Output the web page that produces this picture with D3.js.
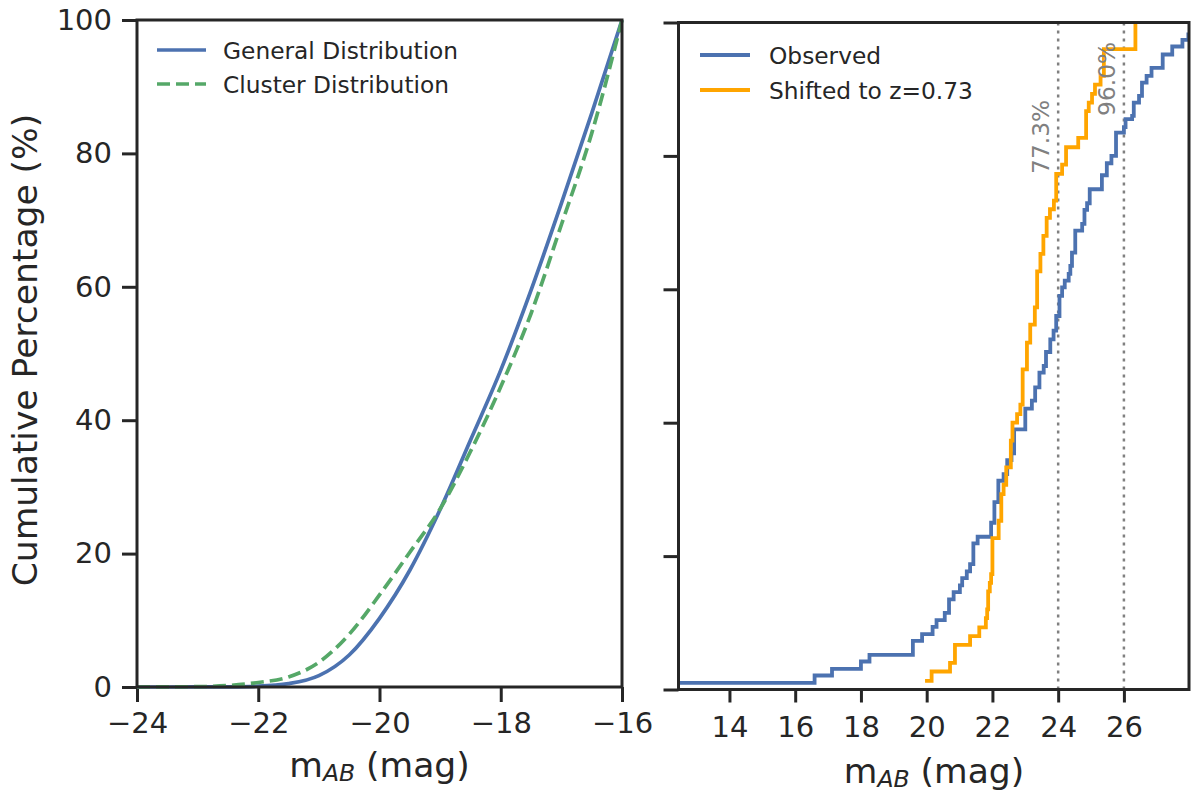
<!DOCTYPE html>
<html>
<head>
<meta charset="utf-8">
<script src="https://cdn.jsdelivr.net/npm/d3@7"></script>
<style>
  html, body { margin: 0; padding: 0; background: #ffffff; }
  svg { display: block; font-family: "DejaVu Sans", sans-serif; }
</style>
</head>
<body>
<svg id="chart" width="1193" height="794"></svg>
<script>
// ---------- data ----------
// Left panel: cumulative percentage vs absolute magnitude
const absMag      = [-24, -23, -22.5, -22, -21.5, -21, -20.5, -20, -19.5, -19, -18.5, -18, -17.5, -17, -16.5, -16];
const generalPct  = [0, 0.01, 0.03, 0.12, 0.5, 1.7, 4.8, 10.3, 17.5, 26.6, 37.0, 47.5, 59.5, 72.5, 86.0, 100];
const clusterPct  = [0, 0.05, 0.22, 0.68, 1.5, 3.7, 7.9, 13.8, 20.2, 26.7, 35.3, 45.0, 56.0, 69.3, 83.0, 100];

// Right panel: observed apparent magnitudes (step, post)
const observedMag = [12.45, 16.59, 17.12, 18.00, 18.26, 19.58, 19.86, 20.18, 20.30, 20.55, 20.68, 20.82, 21.01, 21.08, 21.22, 21.32,
                     21.42, 21.55, 21.96, 22.06, 22.18, 22.34, 22.45, 22.58, 22.66, 23.00, 23.20, 23.30, 23.43, 23.56, 23.63, 23.76,
                     23.86, 23.94, 24.04, 24.12, 24.20, 24.32, 24.37, 24.42, 24.52, 24.73, 24.80, 24.88, 24.96, 25.33, 25.48, 25.62,
                     25.76, 26.00, 26.05, 26.25, 26.30, 26.46, 26.55, 26.69, 26.84, 27.18, 27.47, 27.78, 27.96];
const observedPct = [1.0, 2.1, 3.1, 4.2, 5.2, 7.3, 8.3, 9.4, 10.4, 11.5, 13.5, 14.6, 15.6, 16.7, 17.7, 18.8,
                     21.9, 22.9, 25.0, 28.1, 31.3, 32.3, 34.4, 35.4, 39.0, 42.1, 43.3, 45.3, 47.5, 48.5, 50.6, 52.5,
                     53.8, 56.0, 59.0, 60.3, 61.3, 62.3, 63.5, 65.5, 68.8, 69.8, 71.9, 72.9, 75.0, 77.1, 78.9, 80.0,
                     83.5, 84.3, 85.5, 86.0, 88.0, 89.0, 91.0, 92.0, 93.2, 95.2, 96.4, 97.4, 98.5];

// Right panel: magnitudes shifted to z=0.73 (step, post)
const shiftedMag  = [19.95, 20.15, 20.71, 20.86, 21.32, 21.60, 21.80, 21.84, 21.87, 21.92, 21.96, 22.00, 22.19, 22.27, 22.34, 22.42,
                     22.56, 22.61, 22.75, 22.85, 22.92, 23.05, 23.15, 23.29, 23.36, 23.46, 23.55, 23.65, 23.75, 23.87, 23.94, 24.12,
                     24.24, 24.61, 24.85, 24.93, 25.03, 25.12, 25.29, 25.39, 26.35];
const shiftedPct  = [1.3, 2.7, 4.0, 6.7, 8.0, 9.3, 10.7, 12.0, 14.7, 16.0, 17.3, 22.7, 25.3, 29.3, 30.7, 33.3,
                     37.3, 40.0, 41.3, 42.7, 48.0, 52.0, 54.7, 57.3, 62.7, 65.3, 68.0, 70.7, 72.0, 73.3, 77.3, 78.7,
                     81.3, 82.7, 86.7, 88.0, 89.3, 90.7, 92.0, 96.0, 100];

// Reference lines and their labels
const refMag      = [24, 26];
const refLabel    = ["77.3%", "96.0%"];
const refLabelPct = [77.3, 86.0];

// Ticks
const leftXTicks  = [-24, -22, -20, -18, -16];
const rightXTicks = [14, 16, 18, 20, 22, 24, 26];
const yTicks      = [0, 20, 40, 60, 80, 100];

// ---------- styles ----------
const INK = "#262626";
const BLUE = "#4C72B0", GREEN = "#55A868", ORANGE = "#FFA500", GRAY = "#808080";
const TICK_FS = 29, LABEL_FS = 34.5, LEGEND_FS = 23.3;

const svg = d3.select("#chart");

// ---------- scales ----------
const xL = d3.scaleLinear().domain([-24, -16]).range([137, 622]);
const yL = d3.scaleLinear().domain([0, 100]).range([687, 20]);
const xR = d3.scaleLinear().domain([12.45, 27.98]).range([678.5, 1189]);
const yR = d3.scaleLinear().domain([0, 100]).range([689.5, 22.5]);

function styleAxis(g) {
  g.select(".domain").remove();
  g.selectAll(".tick line").attr("stroke", INK).attr("stroke-width", 3);
  g.selectAll(".tick text").attr("fill", INK).attr("font-size", TICK_FS)
    .attr("font-family", "DejaVu Sans, sans-serif");
}

function frame(x, y) {
  const [x0, x1] = x.range();
  const [y0, y1] = y.range();
  svg.append("rect").attr("x", x0).attr("y", y1).attr("width", x1 - x0).attr("height", y0 - y1)
    .attr("fill", "none").attr("stroke", INK).attr("stroke-width", 3);
}

// ---------- left panel ----------
svg.append("g").attr("transform", `translate(0,${yL(0)})`)
  .call(d3.axisBottom(xL).tickValues(leftXTicks).tickSize(15).tickPadding(10).tickFormat(d3.format("d")))
  .call(styleAxis)
  .selectAll(".tick text").attr("dy", "0.71em");

svg.append("g").attr("transform", `translate(${xL(-24)},0)`)
  .call(d3.axisLeft(yL).tickValues(yTicks).tickSize(15).tickPadding(10).tickFormat(d3.format("d")))
  .call(styleAxis);

const lineL = d3.line().curve(d3.curveMonotoneX).x(d => xL(d[0])).y(d => yL(d[1]));
const generalData = absMag.map((m, i) => [m, generalPct[i]]);
const clusterData = absMag.map((m, i) => [m, clusterPct[i]]);

svg.append("path").datum(generalData).attr("d", lineL)
  .attr("fill", "none").attr("stroke", BLUE).attr("stroke-width", 3.7);
svg.append("path").datum(clusterData).attr("d", lineL)
  .attr("fill", "none").attr("stroke", GREEN).attr("stroke-width", 3.7)
  .attr("stroke-dasharray", "13,6");

frame(xL, yL);

// left legend
const legL = [
  { label: "General Distribution", color: BLUE, dash: null },
  { label: "Cluster Distribution", color: GREEN, dash: "13,6" }
];
legL.forEach((d, i) => {
  const cy = 50 + i * 34;
  svg.append("line").attr("x1", 157).attr("x2", 206).attr("y1", cy).attr("y2", cy)
    .attr("stroke", d.color).attr("stroke-width", 3.7).attr("stroke-dasharray", d.dash);
  svg.append("text").attr("x", 223).attr("y", cy + 8.5).attr("font-size", LEGEND_FS)
    .attr("fill", INK).text(d.label);
});

// axis labels
function xLabel(cx, baseline) {
  const t = svg.append("text").attr("x", cx).attr("y", baseline).attr("text-anchor", "middle")
    .attr("font-size", LABEL_FS).attr("fill", INK);
  t.append("tspan").text("m");
  t.append("tspan").attr("font-size", 23.5).attr("font-style", "italic").attr("dy", 4).text("AB");
  t.append("tspan").attr("dy", -4).text(" (mag)");
}
xLabel(379.5, 777);

svg.append("text").attr("transform", "translate(37,350) rotate(-90)")
  .attr("text-anchor", "middle").attr("font-size", LABEL_FS).attr("fill", INK)
  .text("Cumulative Percentage (%)");

// ---------- right panel ----------
svg.append("g").attr("transform", `translate(0,${yR(0)})`)
  .call(d3.axisBottom(xR).tickValues(rightXTicks).tickSize(13).tickPadding(14).tickFormat(d3.format("d")))
  .call(styleAxis)
  .selectAll(".tick text").attr("dy", "0.71em");

svg.append("g").attr("transform", `translate(${xR.range()[0]},0)`)
  .call(d3.axisLeft(yR).tickValues(yTicks).tickSize(15).tickFormat(""))
  .call(styleAxis);

svg.append("clipPath").attr("id", "clipR").append("rect")
  .attr("x", xR.range()[0]).attr("y", yR.range()[1])
  .attr("width", xR.range()[1] - xR.range()[0]).attr("height", yR.range()[0] - yR.range()[1]);

const gR = svg.append("g").attr("clip-path", "url(#clipR)");

// reference dotted lines
refMag.forEach(m => {
  gR.append("line").attr("x1", xR(m)).attr("x2", xR(m)).attr("y1", yR(0)).attr("y2", yR(100))
    .attr("stroke", GRAY).attr("stroke-width", 2.5).attr("stroke-dasharray", "3,5");
});

const stepLine = d3.line().curve(d3.curveStepAfter).x(d => xR(d[0])).y(d => yR(d[1]));
const obsData = observedMag.map((m, i) => [m, observedPct[i]]);
const shiftData = shiftedMag.map((m, i) => [m, shiftedPct[i]]);

gR.append("path").datum(obsData).attr("d", stepLine)
  .attr("fill", "none").attr("stroke", BLUE).attr("stroke-width", 3.8);
gR.append("path").datum(shiftData).attr("d", stepLine)
  .attr("fill", "none").attr("stroke", ORANGE).attr("stroke-width", 3.8);

// labels on reference lines
refMag.forEach((m, i) => {
  svg.append("text")
    .attr("transform", `translate(${xR(m) - 9},${yR(refLabelPct[i])}) rotate(-90)`)
    .attr("font-size", LEGEND_FS).attr("fill", GRAY).text(refLabel[i]);
});

frame(xR, yR);

// right legend
const legR = [
  { label: "Observed", color: BLUE },
  { label: "Shifted to z=0.73", color: ORANGE }
];
legR.forEach((d, i) => {
  const cy = 55 + i * 35;
  svg.append("line").attr("x1", 700).attr("x2", 750).attr("y1", cy).attr("y2", cy)
    .attr("stroke", d.color).attr("stroke-width", 3.8);
  svg.append("text").attr("x", 769).attr("y", cy + 8.5).attr("font-size", LEGEND_FS)
    .attr("fill", INK).text(d.label);
});

xLabel(934, 783);
</script>
</body>
</html>
